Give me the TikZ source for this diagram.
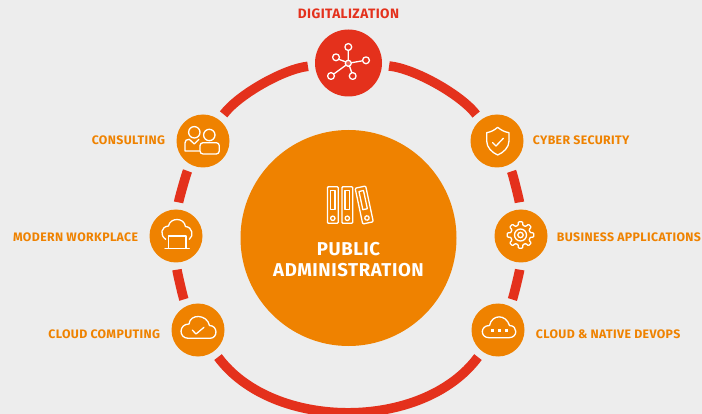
\documentclass[tikz,border=0pt]{standalone}
\usepackage{fontspec}
\setmainfont[LetterSpace=3,BoldFont={Fira Sans Bold}]{Fira Sans}
\usetikzlibrary{positioning}
\definecolor{fillorange}{HTML}{EF8200}
\definecolor{fillred}{HTML}{E4311C}
\definecolor{backgray}{HTML}{EDEDED}
\tikzset{
    topic/.style={circle,fill=fillorange,minimum size=53pt,inner sep=0pt},
    caption/.style={text=fillorange,inner sep=0pt,font=\fontsize{12.3}{14}\selectfont\bfseries},
    ringarc/.style={draw=fillred,line width=9.5pt,shorten <=7pt,shorten >=7pt},
    iconline/.style={draw=white,line width=1.3pt,line join=round,line cap=round},
}
\begin{document}
\begin{tikzpicture}[x=1pt,y=-1pt]
    \fill[backgray] (0,0) rectangle (702,414);
    \useasboundingbox (0,0) rectangle (702,414);
    % centre
    \node[circle,fill=fillorange,minimum size=216pt,inner sep=0pt] (hub) at (348.5,238) {};
    \node[align=center,text=white,inner sep=0pt,font=\fontsize{18.6}{21.5}\selectfont\bfseries] (hubtext) at (348.5,259.5) {PUBLIC\\ADMINISTRATION};
    % topics
    \node[topic,fill=fillred,minimum size=67pt] (digital) at (348.5,63) {};
    \node[topic] (cyber) at (497,141) {};
    \node[topic] (business) at (521,236) {};
    \node[topic] (devops) at (498,330) {};
    \node[topic] (computing) at (198,330) {};
    \node[topic] (workplace) at (176,236) {};
    \node[topic] (consult) at (203,141) {};
    % captions
    \node[caption,text=fillred,font=\fontsize{13.6}{14}\selectfont\bfseries,above=10pt of digital] (digitalcap) {DIGITALIZATION};
    \node[caption,right=9pt of cyber,yshift=1pt] (cybercap) {CYBER SECURITY};
    \node[caption,right=9pt of business,yshift=-1pt] (businesscap) {BUSINESS APPLICATIONS};
    \node[caption,right=11pt of devops,yshift=-4pt] (devopscap) {CLOUD \& NATIVE DEVOPS};
    \node[caption,left=11pt of computing,yshift=-4pt] (computingcap) {CLOUD COMPUTING};
    \node[caption,left=11pt of workplace,yshift=-1pt] (workplacecap) {MODERN WORKPLACE};
    \node[caption,left=11pt of consult,yshift=1pt] (consultcap) {CONSULTING};
    % ring
    \draw[ringarc] (digital) to[bend left=23.75,looseness=.73] (cyber);
    \draw[ringarc] (cyber) to[bend left=11.5,looseness=.52] (business);
    \draw[ringarc] (business) to[bend left=11.5,looseness=.52] (devops);
    \draw[ringarc] (devops) to[bend left=53.5,looseness=.95] (computing);
    \draw[ringarc] (computing) to[bend left=11.5,looseness=.52] (workplace);
    \draw[ringarc] (workplace) to[bend left=11.5,looseness=.52] (consult);
    \draw[ringarc] (consult) to[bend left=23.75,looseness=.73] (digital);
    % binders
    \foreach \bx/\brot in {332.8/0,347.3/0,364.2/12} {
        \begin{scope}[shift={(\bx,205)},rotate=\brot]
            \draw[iconline,rounded corners=1pt] (-5.4,-18.3) rectangle (5.4,18.3);
            \draw[iconline] (-2.3,-14.3) rectangle (2.3,4.3);
            \draw[iconline] (0,13.3) circle (2.2);
        \end{scope}
    }
    % digital
    \foreach \sx/\sy in {348.3/47,336/57.3,366/60.3,331/76,352.7/76} {
        \draw[iconline,fill=fillred] (\sx,\sy) circle (3.4);
    }
    \draw[iconline] (348.3,50.4) -- (348.3,60) (338.8,59.3) -- (345.6,61.8) (362.6,60.8) -- (351.7,62.7) (333.8,74) -- (345.6,65.4) (351.8,72.8) -- (349.6,66.4);
    \draw[iconline,fill=white,fill opacity=.25] (348.3,63.3) circle (3);
    % consulting
    \draw[iconline] (194.3,132.3) circle (5.7) (209.3,135) circle (5.7);
    \draw[iconline] (199.5,151) -- (185,151) -- (185,143) .. controls (185,140.5) and (186.5,139.3) .. (189.3,139.3) -- (194.3,144) -- (199,139.3);
    \draw[iconline,rounded corners=3pt] (200,154) -- (200,142.7) -- (219.3,142.7) -- (219.3,154) -- cycle;
    % workplace
    \draw[iconline] (165.7,239.3) .. controls (159.5,235) and (161,226.5) .. (168.5,226) .. controls (170,217.5) and (184,217) .. (185.5,226.5) .. controls (192.5,227) and (194,236) .. (189.3,239.3);
    \draw[iconline] (168.3,247.7) -- (168.3,236) -- (186,236) -- (186,247.7);
    \draw[iconline] (165,248.3) -- (189.3,248.3);
    % cyber
    \draw[iconline] (497.7,127.3) .. controls (494,130.5) and (490.5,132) .. (486.7,132.7) -- (486.7,141) .. controls (486.7,147.5) and (492,152.5) .. (497.7,155) .. controls (503.5,152.5) and (509,147.5) .. (509,141) -- (509,132.7) .. controls (505,132) and (501.5,130.5) .. (497.7,127.3) -- cycle;
    \draw[iconline] (492.7,142.7) -- (496,146) -- (503.3,138.3);
    % business
    \begin{scope}[shift={(520.5,235)}]
        \draw[iconline] (0:0) circle (2.7) circle (6);
        \draw[iconline,rounded corners=.8pt] (-13:10) \foreach \a in {0,45,...,315} { -- (\a-13:10) -- (\a-9:13.4) -- (\a+9:13.4) -- (\a+13:10) } -- cycle;
    \end{scope}
    % computing
    \draw[iconline] (188.3,338.3) -- (210,338.3) .. controls (218,338.3) and (218,325.5) .. (209.5,325.5) .. controls (207,314) and (190,313.5) .. (189,324) .. controls (178.5,324) and (178.5,338.3) .. (188.3,338.3) -- cycle;
    \draw[iconline] (192.3,330) -- (196,334) -- (204,327.3);
    % devops
    \draw[iconline] (489,337.7) -- (509,337.7) .. controls (518,337.7) and (518,325.5) .. (509.5,325.5) .. controls (506,314) and (492,314) .. (489.5,325.5) .. controls (480,325.5) and (480,337.7) .. (489,337.7) -- cycle;
    \foreach \qx in {492.3,499.3,506.7} {
        \fill[white] (\qx-1.6,328.7) rectangle (\qx+1.6,331.9);
    }
\end{tikzpicture}
\end{document}
